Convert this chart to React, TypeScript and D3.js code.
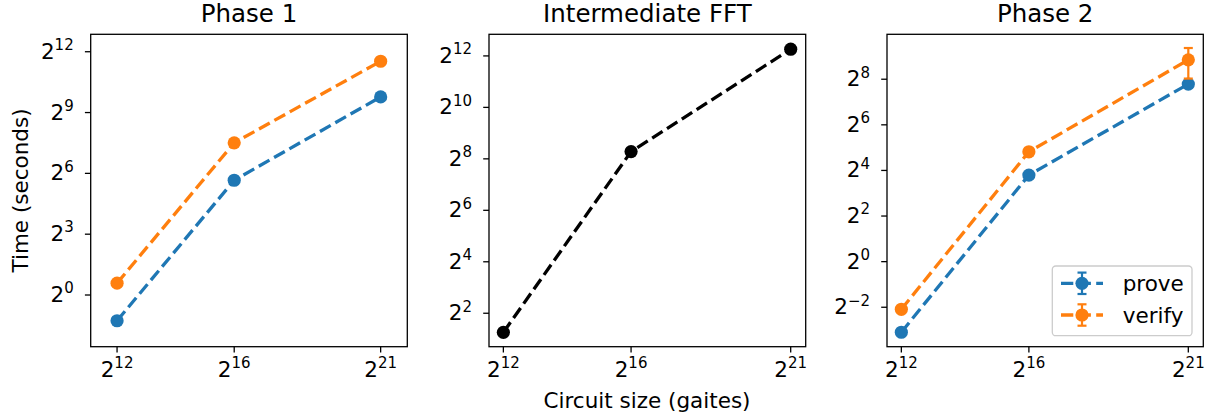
import * as d3 from 'd3'

// circuit sizes (gates) and timings in seconds
const sizes = [4096, 65536, 2097152]
const phase1Prove = [0.415, 50.6, 873]
const phase1Verify = [1.5, 182, 2957]
const fftTimes = [2.39, 311, 4905]
const phase2Prove = [0.117, 13.9, 221]
const phase2Verify = [0.235, 28.2, 461]
const phase2VerifyErr = [0, 0, 200]

const xTickExps = [12, 16, 21]
const phase1YTickExps = [0, 3, 6, 9, 12]
const fftYTickExps = [2, 4, 6, 8, 10, 12]
const phase2YTickExps = [-2, 0, 2, 4, 6, 8]

const titles = ['Phase 1', 'Intermediate FFT', 'Phase 2']
const legendLabels = ['prove', 'verify']

const BLUE = '#1f77b4'
const ORANGE = '#ff7f0e'
const FONT = 'DejaVu Sans, sans-serif'
const TOP = 34.3
const BOTTOM = 346.7

type Series = { values: number[]; err?: number[]; color: string }
type Panel = {
  left: number
  right: number
  xDom: [number, number]
  yDom: [number, number]
  yTicks: number[]
  series: Series[]
}

const panels: Panel[] = [
  {
    left: 90.7, right: 407.3, xDom: [11.1, 21.91], yDom: [-2.55, 12.86],
    yTicks: phase1YTickExps,
    series: [{ values: phase1Prove, color: BLUE }, { values: phase1Verify, color: ORANGE }],
  },
  {
    left: 489, right: 805.7, xDom: [11.55, 21.47], yDom: [0.7, 12.84],
    yTicks: fftYTickExps,
    series: [{ values: fftTimes, color: 'black' }],
  },
  {
    left: 887, right: 1203.3, xDom: [11.55, 21.47], yDom: [-3.73, 9.97],
    yTicks: phase2YTickExps,
    series: [
      { values: phase2Prove, color: BLUE },
      { values: phase2Verify, err: phase2VerifyErr, color: ORANGE },
    ],
  },
]

const expLabel = (e: number) => (e < 0 ? '\u2212' + -e : String(e))

function Pow({ x, y, exp, anchor }: { x: number; y: number; exp: number; anchor: string }) {
  return (
    <text x={x} y={y} textAnchor={anchor} fontFamily={FONT} fontSize={21.5} fill="black">
      <tspan>2</tspan>
      <tspan dy={-8.7} fontSize={15}>{expLabel(exp)}</tspan>
    </text>
  )
}

function PanelView({ p, title }: { p: Panel; title: string }) {
  const x = d3.scaleLog().base(2).domain([2 ** p.xDom[0], 2 ** p.xDom[1]]).range([p.left, p.right])
  const y = d3.scaleLog().base(2).domain([2 ** p.yDom[0], 2 ** p.yDom[1]]).range([BOTTOM, TOP])
  const line = d3.line<number>().x((_, i) => x(sizes[i])).y(d => y(d))
  return (
    <g>
      <text x={(p.left + p.right) / 2} y={22} textAnchor="middle" fontFamily={FONT} fontSize={24.5}>{title}</text>
      {p.series.map((s, si) => (
        <g key={si}>
          <path d={line(s.values) || ''} fill="none" stroke={s.color} strokeWidth={3.3} strokeDasharray="12.3,5.3" />
          {s.err && s.values.map((v, i) => s.err![i] > 0 && (
            <g key={i} stroke={s.color} strokeWidth={2.2}>
              <line x1={x(sizes[i])} x2={x(sizes[i])} y1={y(v + s.err![i])} y2={y(v - s.err![i])} />
              <line x1={x(sizes[i]) - 4.5} x2={x(sizes[i]) + 4.5} y1={y(v + s.err![i])} y2={y(v + s.err![i])} />
              <line x1={x(sizes[i]) - 4.5} x2={x(sizes[i]) + 4.5} y1={y(v - s.err![i])} y2={y(v - s.err![i])} />
            </g>
          ))}
          {s.values.map((v, i) => (
            <circle key={i} cx={x(sizes[i])} cy={y(v)} r={6.6} fill={s.color} />
          ))}
        </g>
      ))}
      <rect x={p.left} y={TOP} width={p.right - p.left} height={BOTTOM - TOP} fill="none" stroke="black" strokeWidth={1.3} />
      {xTickExps.map(e => (
        <g key={e}>
          <line x1={x(2 ** e)} x2={x(2 ** e)} y1={BOTTOM} y2={BOTTOM + 5.8} stroke="black" strokeWidth={1.3} />
          <Pow x={x(2 ** e)} y={377} exp={e} anchor="middle" />
        </g>
      ))}
      {p.yTicks.map(e => (
        <g key={e}>
          <line x1={p.left - 5.8} x2={p.left} y1={y(2 ** e)} y2={y(2 ** e)} stroke="black" strokeWidth={1.3} />
          <Pow x={p.left - 17} y={y(2 ** e) + 7} exp={e} anchor="end" />
        </g>
      ))}
    </g>
  )
}

function Legend() {
  const colors = [BLUE, ORANGE]
  const rows = [283.3, 315]
  return (
    <g>
      <rect x={1052.3} y={266} width={139.7} height={69.7} rx={3.5} fill="white" fillOpacity={0.8} stroke="#cccccc" strokeWidth={1.3} />
      {legendLabels.map((lab, i) => (
        <g key={lab}>
          <line x1={1061} x2={1103} y1={rows[i]} y2={rows[i]} stroke={colors[i]} strokeWidth={3.3} strokeDasharray="12.3,5.3" />
          <g stroke={colors[i]} strokeWidth={2.2}>
            <line x1={1082} x2={1082} y1={rows[i] - 10.7} y2={rows[i] + 10.7} />
            <line x1={1077.5} x2={1086.5} y1={rows[i] - 10.7} y2={rows[i] - 10.7} />
            <line x1={1077.5} x2={1086.5} y1={rows[i] + 10.7} y2={rows[i] + 10.7} />
          </g>
          <circle cx={1082} cy={rows[i]} r={6.6} fill={colors[i]} />
          <text x={1122.7} y={rows[i] + 7.5} fontFamily={FONT} fontSize={21.5}>{lab}</text>
        </g>
      ))}
    </g>
  )
}

export default function App() {
  return (
    <svg width={1211} height={419} style={{ position: 'absolute', left: 0, top: 0, background: 'white' }}>
      <rect width={1211} height={419} fill="white" />
      {panels.map((p, i) => <PanelView key={i} p={p} title={titles[i]} />)}
      <Legend />
      <text transform="translate(28.4,190.5) rotate(-90)" textAnchor="middle" fontFamily={FONT} fontSize={21.5}>Time (seconds)</text>
      <text x={647} y={408} textAnchor="middle" fontFamily={FONT} fontSize={21.5}>Circuit size (gaites)</text>
    </svg>
  )
}
